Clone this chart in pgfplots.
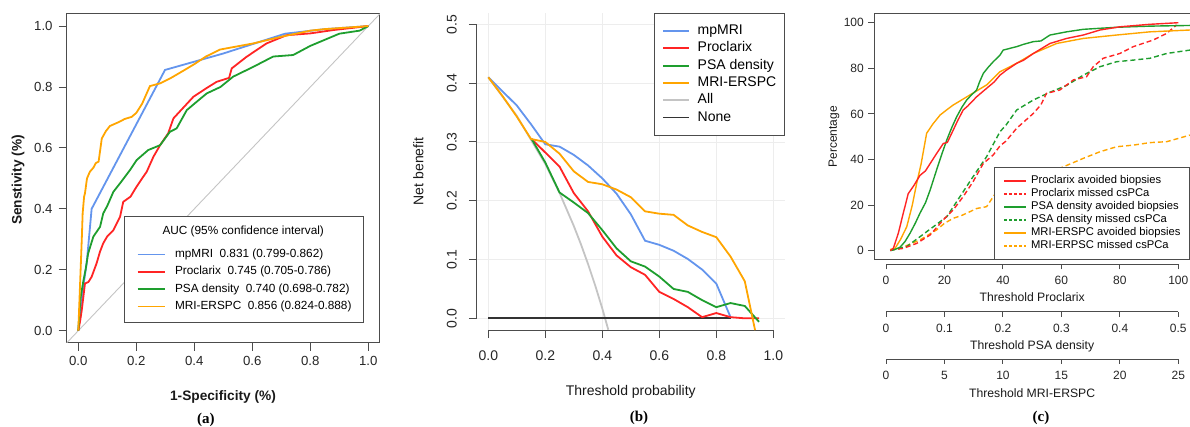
\documentclass[border=0pt]{standalone}
\usepackage{fontspec}
\setmainfont{Liberation Sans}
\newfontfamily\panelfont{Liberation Serif}
\usepackage{pgfplots}
\pgfplotsset{compat=1.18}
\definecolor{rblue}{HTML}{6495ED}
\definecolor{rred}{HTML}{FF2424}
\definecolor{rgreen}{HTML}{1E9E2E}
\definecolor{rorange}{HTML}{FFA500}
\definecolor{rgray}{HTML}{C4C4C4}
\pgfplotsset{
  rax/.style={scale only axis, tick align=outside, major tick length=8pt,
    axis line style={black!70,line width=0.9pt}, tick style={black!70,line width=0.9pt},
    tick label style={black!85}, label style={black!90}},
}
\begin{document}
\begin{tikzpicture}
\useasboundingbox (0pt,0pt) rectangle (1190pt,427pt);

% ---------------- (a) ROC
\begin{axis}[rax, at={(66.7pt,84.1pt)}, anchor=south west, width=313.2pt, height=329pt,
  xmin=-0.04, xmax=1.04, ymin=-0.04, ymax=1.04, tick pos=left,
  xtick={0,0.2,0.4,0.6,0.8,1}, xticklabels={0.0,0.2,0.4,0.6,0.8,1.0},
  ytick={0,0.2,0.4,0.6,0.8,1}, yticklabels={0.0,0.2,0.4,0.6,0.8,1.0},
  tick label style={font=\fontsize{13.2}{15}\selectfont},
  xticklabel style={yshift=-1.7pt}, yticklabel style={xshift=-2.6pt},
  xlabel={\bfseries 1-Specificity (\%)}, ylabel={\bfseries Senstivity (\%)},
  label style={font=\fontsize{13.7}{16}\selectfont},
  xlabel style={at={(axis description cs:0.499,-0.164)}, anchor=center},
  ylabel style={at={(axis description cs:-0.155,0.495)}, anchor=center},
  legend image code/.code={\draw[#1] (0pt,0pt) -- (27pt,0pt);},
  legend style={at={(axis description cs:0.950,0.0614)}, anchor=south east, fill=white,
    draw=black!70, line width=0.9pt, font=\fontsize{11.8}{14}\selectfont,
    inner xsep=12.3pt, inner ysep=9.8pt, row sep=5.3pt, column sep=9.5pt,
    nodes={inner sep=0pt, text height=9pt, text depth=3pt}, cells={anchor=west}},
]
\addplot[forget plot, rgray, line width=0.9pt] coordinates {(-0.04,-0.04) (1.04,1.04)};
\addplot[forget plot, rblue, line width=1.8pt] coordinates {
 (0,0) (0.006,0.06) (0.017,0.144) (0.029,0.222) (0.046,0.40) (0.299,0.856)
 (0.5,0.91) (0.713,0.975) (0.85,0.99) (1,1)};
\addplot[forget plot, rred, line width=1.8pt] coordinates {
 (0,0) (0.006,0.03) (0.012,0.068) (0.023,0.155) (0.035,0.16) (0.046,0.177) (0.063,0.221)
 (0.075,0.26) (0.086,0.287) (0.1,0.31) (0.121,0.33) (0.144,0.374) (0.155,0.423) (0.18,0.44)
 (0.201,0.473) (0.22,0.5) (0.236,0.522) (0.259,0.571) (0.282,0.609) (0.31,0.648)
 (0.328,0.697) (0.36,0.73) (0.397,0.768) (0.44,0.795) (0.477,0.817) (0.52,0.83)
 (0.529,0.861) (0.58,0.899) (0.649,0.943) (0.718,0.97) (0.8,0.976) (0.88,0.987) (1,1)};
\addplot[forget plot, rgreen, line width=1.8pt] coordinates {
 (0,0) (0.004,0.06) (0.008,0.11) (0.017,0.161) (0.025,0.2) (0.034,0.254) (0.052,0.309)
 (0.075,0.341) (0.086,0.385) (0.1,0.41) (0.121,0.456) (0.144,0.484) (0.178,0.527)
 (0.201,0.56) (0.241,0.593) (0.282,0.609) (0.316,0.653) (0.339,0.664) (0.374,0.724)
 (0.4,0.745) (0.443,0.779) (0.49,0.8) (0.534,0.834) (0.603,0.866) (0.672,0.9)
 (0.741,0.905) (0.8,0.935) (0.85,0.955) (0.9,0.975) (0.97,0.985) (1,1)};
\addplot[forget plot, rorange, line width=1.8pt] coordinates {
 (0,0) (0.004,0.1) (0.008,0.2) (0.012,0.3) (0.015,0.385) (0.02,0.44) (0.023,0.451)
 (0.03,0.5) (0.04,0.522) (0.052,0.535) (0.06,0.55) (0.07,0.555) (0.081,0.631)
 (0.095,0.655) (0.109,0.672) (0.14,0.685) (0.16,0.695) (0.184,0.702) (0.2,0.715)
 (0.22,0.745) (0.247,0.803) (0.282,0.812) (0.32,0.83) (0.356,0.85) (0.4,0.875)
 (0.44,0.9) (0.489,0.923) (0.603,0.943) (0.7,0.965) (0.8,0.985) (0.85,0.99) (1,1)};
\addlegendimage{empty legend}
\addlegendentry[text depth=8.4pt]{\hspace*{-12.5pt}AUC (95\% confidence interval)}
\addlegendimage{rblue, line width=1.8pt}
\addlegendentry{mpMRI\ \ 0.831 (0.799-0.862)}
\addlegendimage{rred, line width=1.8pt}
\addlegendentry{Proclarix\ \ 0.745 (0.705-0.786)}
\addlegendimage{rgreen, line width=1.8pt}
\addlegendentry{PSA density\ \ 0.740 (0.698-0.782)}
\addlegendimage{rorange, line width=1.8pt}
\addlegendentry{MRI-ERSPC\ \ 0.856 (0.824-0.888)}
\end{axis}

% ---------------- (b) decision curves
\begin{axis}[rax, at={(476.9pt,96.9pt)}, anchor=south west, width=307.8pt, height=317.5pt,
  xmin=-0.04, xmax=1.04, ymin=-0.02, ymax=0.52, axis lines*=left,
  x axis line style={shorten <=11.4pt, shorten >=11.4pt},
  y axis line style={shorten <=11.76pt, shorten >=11.76pt},
  grid=major, grid style={black!7, line width=0.8pt},
  xtick={0,0.2,0.4,0.6,0.8,1}, xticklabels={0.0,0.2,0.4,0.6,0.8,1.0},
  ytick={0,0.1,0.2,0.3,0.4,0.5}, yticklabels={0.0,0.1,0.2,0.3,0.4,0.5},
  tick label style={font=\fontsize{14}{16}\selectfont},
  xticklabel style={yshift=-8.9pt},
  yticklabel style={rotate=90, anchor=south, inner ysep=11.9pt},
  xlabel={Threshold probability}, ylabel={Net benefit},
  label style={font=\fontsize{14}{16}\selectfont},
  xlabel style={at={(axis description cs:0.5,-0.194)}, anchor=center},
  ylabel style={at={(axis description cs:-0.19,0.5)}, anchor=center},
  legend image code/.code={\draw[#1] (0pt,0pt) -- (25.6pt,0pt);},
  legend style={at={(axis description cs:1,1)}, anchor=north east, fill=white,
    draw=black!70, line width=0.9pt, font=\fontsize{14}{16}\selectfont,
    inner xsep=8pt, inner ysep=11.5pt, row sep=4.3pt, column sep=8pt,
    nodes={inner sep=0pt, text height=10pt, text depth=3pt}, cells={anchor=west}},
]
\addplot[forget plot, rgray, line width=1.8pt] coordinates {
 (0,0.41) (0.1,0.3444) (0.2,0.2625) (0.25,0.2133) (0.3,0.1571) (0.325,0.126)
 (0.35,0.0923) (0.375,0.056) (0.4,0.0167) (0.421,-0.0194)};
\addplot[forget plot, black!80, line width=1.8pt] coordinates {(0,0) (0.85,0)};
\addplot[forget plot, rblue, line width=1.8pt] coordinates {
 (0,0.41) (0.05,0.386) (0.1,0.362) (0.15,0.33) (0.2,0.296) (0.25,0.292) (0.3,0.278)
 (0.35,0.26) (0.4,0.238) (0.45,0.212) (0.5,0.177) (0.55,0.132) (0.6,0.125) (0.65,0.115)
 (0.7,0.101) (0.75,0.083) (0.8,0.059) (0.85,0.002)};
\addplot[forget plot, rred, line width=1.8pt] coordinates {
 (0.152,0.305) (0.2,0.282) (0.25,0.258) (0.3,0.213) (0.35,0.182) (0.4,0.139) (0.45,0.107)
 (0.5,0.087) (0.55,0.074) (0.6,0.045) (0.65,0.033) (0.7,0.019) (0.75,0.002) (0.8,0.009)
 (0.85,0.002) (0.9,0.0) (0.95,0.0)};
\addplot[forget plot, rgreen, line width=1.8pt] coordinates {
 (0.152,0.305) (0.2,0.265) (0.25,0.214) (0.3,0.197) (0.35,0.179) (0.4,0.15) (0.45,0.119)
 (0.5,0.097) (0.55,0.088) (0.6,0.071) (0.65,0.05) (0.7,0.045) (0.75,0.031) (0.8,0.019)
 (0.85,0.026) (0.9,0.021) (0.95,-0.006)};
\addplot[forget plot, rorange, line width=1.8pt] coordinates {
 (0,0.41) (0.05,0.378) (0.1,0.343) (0.15,0.305) (0.2,0.3) (0.25,0.28) (0.3,0.25)
 (0.35,0.232) (0.4,0.228) (0.45,0.219) (0.5,0.206) (0.55,0.182) (0.6,0.178) (0.65,0.176)
 (0.7,0.158) (0.75,0.147) (0.8,0.138) (0.85,0.105) (0.9,0.063) (0.936,-0.02)};
\addlegendimage{rblue, line width=1.8pt}\addlegendentry{mpMRI}
\addlegendimage{rred, line width=1.8pt}\addlegendentry{Proclarix}
\addlegendimage{rgreen, line width=1.8pt}\addlegendentry{PSA density}
\addlegendimage{rorange, line width=1.8pt}\addlegendentry{MRI-ERSPC}
\addlegendimage{rgray, line width=1.8pt}\addlegendentry{All}
\addlegendimage{black!80, line width=1.8pt}\addlegendentry{None}
\end{axis}

% ---------------- (c) percentages
\begin{axis}[rax, at={(874.3pt,167.2pt)}, anchor=south west, width=315.7pt, height=246.2pt,
  xmin=-4, xmax=104, ymin=-4, ymax=104, xtick=\empty, ytick pos=left, major tick length=6pt,
  ytick={0,20,40,60,80,100}, yticklabels={0,20,40,60,80,100},
  tick label style={font=\fontsize{12}{14}\selectfont}, yticklabel style={xshift=-1pt},
  ylabel={Percentage}, label style={font=\fontsize{12}{14}\selectfont},
  ylabel style={at={(axis description cs:-0.128,0.5)}, anchor=center},
  legend image code/.code={\draw[#1] (0pt,0pt) -- (22pt,0pt);},
  legend style={at={(axis description cs:1,0)}, anchor=south east, fill=white,
    draw=black!70, line width=0.9pt, font=\fontsize{11.2}{13}\selectfont,
    inner xsep=9pt, inner ysep=8pt, row sep=2.6pt, column sep=4pt,
    nodes={inner sep=0pt, text height=8pt, text depth=2.4pt}, cells={anchor=west}},
]
\addplot[forget plot, rorange, line width=1.4pt, dash pattern=on 5pt off 3pt] coordinates {
 (1.4,0.3) (4.8,1) (11.6,4.7) (17.3,9.1) (20,12) (23,14.2) (26,15.5) (28.7,17.1) (31,18.5)
 (34.4,19.3) (36.7,23.7) (39,28) (45,31) (50,32.5) (55,34) (60.7,36.8) (67.5,40.5)
 (73.2,43.4) (78.9,45.6) (84.6,46.3) (90.3,47.4) (96,47.8) (104,50.7)};
\addplot[forget plot, rgreen, line width=1.4pt, dash pattern=on 5pt off 3pt] coordinates {
 (1.4,0.3) (4,0.8) (7.1,1.8) (11.6,6.1) (16.2,10.5) (20.8,14.9) (25.3,23.7) (29.8,32.5)
 (34.4,41.2) (39,52.2) (41,55) (44.7,61.7) (50.4,66.1) (56.1,69.5) (61.8,72.5) (67.5,77)
 (73.2,80.7) (78.9,82.9) (84.6,83.6) (90.3,84.4) (96,86.5) (104,88)};
\addplot[forget plot, rred, line width=1.4pt, dash pattern=on 5pt off 3pt] coordinates {
 (1.4,0.3) (5.9,1) (10.5,3.2) (15.1,6.9) (19.6,13.5) (23,17.9) (26.4,23.7) (29.8,30.3)
 (33.3,38.3) (36.7,42) (39,46) (41,48) (44.7,53.7) (50.4,60.2) (53,64) (54.9,69)
 (59.5,70.5) (64.1,74.9) (68.6,76.3) (70.9,80.7) (74.3,84.4) (80,86.5) (84.6,89.5)
 (91.4,92.4) (96,95.3) (99.4,99)};
\addplot[forget plot, rorange, line width=1.4pt] coordinates {
 (1.4,0.5) (3.1,1) (5,5) (7.1,10.5) (9,20) (10.5,29.6) (12,38) (13.9,51.5) (16,55.5)
 (18.5,59.5) (21,62) (23,63.9) (28.7,68.3) (34.4,72.7) (39,78.5) (44.7,82.2) (50.4,86.5)
 (58.4,90.9) (67.5,93.1) (78.9,94.6) (90.3,96) (104,96.8)};
\addplot[forget plot, rgreen, line width=1.4pt] coordinates {
 (1.5,0) (3,0.5) (4.8,1.5) (6.5,4) (8.2,7.6) (10,12) (11.6,16.4) (13.5,21) (15.1,26.6)
 (17.3,35.4) (19,42) (20.8,48.6) (22.5,54) (24.2,58.8) (26,63) (27.6,66.1) (29,68)
 (31,70.5) (32,74) (33.3,77.8) (35,80.5) (36.7,82.9) (39,85.8) (40.1,88) (44.7,89.5)
 (47,90.5) (50.4,91.7) (53,92) (56.1,94.6) (61.8,96) (67.5,97.1) (78.9,98) (90.3,98.5)
 (104,98.8)};
\addplot[forget plot, rred, line width=1.4pt] coordinates {
 (1.5,0) (2.5,1) (4.2,7.6) (5.9,16.4) (7.6,25) (9.5,28.5) (11.6,33) (13.5,35) (15.5,39)
 (17.5,43) (19.6,47) (21,47.5) (23,52.9) (24.5,57) (26.4,61.7) (28,63.5) (31,67.5)
 (34.4,71.2) (37,74) (39,77) (41,79) (44.7,82.2) (47,83.5) (50.4,86.5) (56.1,90.9)
 (61.8,93.1) (67.5,94.6) (73.2,96.8) (80,98.2) (90.3,99.3) (100,100)};
\addlegendimage{rred, line width=1.4pt}\addlegendentry{Proclarix avoided biopsies}
\addlegendimage{rred, line width=1.4pt, dash pattern=on 3pt off 2pt}\addlegendentry{Proclarix missed csPCa}
\addlegendimage{rgreen, line width=1.4pt}\addlegendentry{PSA density avoided biopsies}
\addlegendimage{rgreen, line width=1.4pt, dash pattern=on 3pt off 2pt}\addlegendentry{PSA density missed csPCa}
\addlegendimage{rorange, line width=1.4pt}\addlegendentry{MRI-ERSPC avoided biopsies}
\addlegendimage{rorange, line width=1.4pt, dash pattern=on 3pt off 2pt}\addlegendentry{MRI-ERPSC missed csPCa}
\end{axis}

% threshold scales under (c)
\begin{axis}[rax, at={(874.3pt,162.7pt)}, anchor=south west, width=315.7pt, height=1pt,
  xmin=-4, xmax=104, ymin=0, ymax=1, axis x line*=bottom, axis y line=none, ytick=\empty,
  major tick length=5pt, x axis line style={shorten <=11.7pt, shorten >=11.7pt},
  xtick={0,20,40,60,80,100}, xticklabels={0,20,40,60,80,100},
  tick label style={font=\fontsize{12}{14}\selectfont}, xticklabel style={yshift=-3.7pt},
  xlabel={Threshold Proclarix}, label style={font=\fontsize{12.2}{14}\selectfont},
  xlabel style={at={(axis description cs:0.5,0)}, anchor=center, yshift=-32.4pt}]
\end{axis}
\begin{axis}[rax, at={(874.3pt,115.3pt)}, anchor=south west, width=315.7pt, height=1pt,
  xmin=-0.02, xmax=0.52, ymin=0, ymax=1, axis x line*=bottom, axis y line=none, ytick=\empty,
  major tick length=5pt, x axis line style={shorten <=11.7pt, shorten >=11.7pt},
  xtick={0,0.1,0.2,0.3,0.4,0.5}, xticklabels={0,0.1,0.2,0.3,0.4,0.5},
  tick label style={font=\fontsize{12}{14}\selectfont}, xticklabel style={yshift=-3.7pt},
  xlabel={Threshold PSA density}, label style={font=\fontsize{12.2}{14}\selectfont},
  xlabel style={at={(axis description cs:0.5,0)}, anchor=center, yshift=-34.3pt}]
\end{axis}
\begin{axis}[rax, at={(874.3pt,68pt)}, anchor=south west, width=315.7pt, height=1pt,
  xmin=-1, xmax=26, ymin=0, ymax=1, axis x line*=bottom, axis y line=none, ytick=\empty,
  major tick length=5pt, x axis line style={shorten <=11.7pt, shorten >=11.7pt},
  xtick={0,5,10,15,20,25}, xticklabels={0,5,10,15,20,25},
  tick label style={font=\fontsize{12}{14}\selectfont}, xticklabel style={yshift=-3.7pt},
  xlabel={Threshold MRI-ERSPC}, label style={font=\fontsize{12.2}{14}\selectfont},
  xlabel style={at={(axis description cs:0.5,0)}, anchor=center, yshift=-34pt}]
\end{axis}

\node[font=\panelfont\bfseries\fontsize{15}{18}\selectfont] at (205.8pt,7pt) {(a)};
\node[font=\panelfont\bfseries\fontsize{15}{18}\selectfont] at (639pt,9pt) {(b)};
\node[font=\panelfont\bfseries\fontsize{15}{18}\selectfont] at (1041pt,9pt) {(c)};
\end{tikzpicture}
\end{document}
